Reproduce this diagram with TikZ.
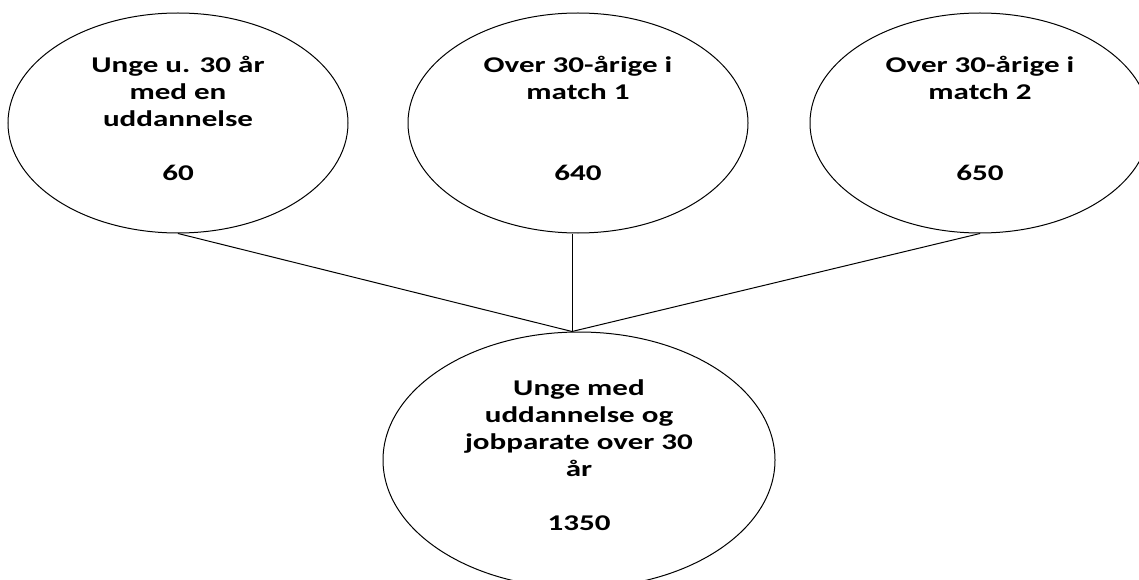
\documentclass[tikz,border=0pt]{standalone}
\usepackage{fontspec}
\setmainfont{Carlito}[FakeStretch=1.38]
\usetikzlibrary{shapes.geometric}
\newcommand{\lowpad}{\rule[-9pt]{0pt}{9pt}}
\tikzset{
  bubble/.style={ellipse, draw=black, line width=1pt, inner sep=0pt,
    align=center, font=\bfseries\fontsize{22.5}{27}\selectfont},
  small/.style={minimum width=340pt, minimum height=220pt},
  link/.style={draw=black, line width=1pt}
}
\begin{document}
\begin{tikzpicture}[x=1pt,y=-1pt]
\useasboundingbox (0,0) rectangle (1139,580);
\node[bubble,small] (e1) at (178,123) {Unge u. 30 år\\med en\\uddannelse\\[27pt]60\lowpad};
\node[bubble,small] (e2) at (578,123) {Over 30-årige i\\match 1\\[54pt]640\lowpad};
\node[bubble,small] (e3) at (980,123) {Over 30-årige i\\match 2\\[54pt]650\lowpad};
\node[bubble,minimum width=392pt,minimum height=256pt] (e4) at (579,460)
  {Unge med\\uddannelse og\\jobparate over 30\\år\\[27pt]1350\lowpad};
\coordinate (j) at ([xshift=-7pt]e4.north);
\draw[link] (e1.south) -- (j);
\draw[link] ([xshift=-6pt]e2.south) -- (j);
\draw[link] (e3.south) -- (j);
\end{tikzpicture}
\end{document}
